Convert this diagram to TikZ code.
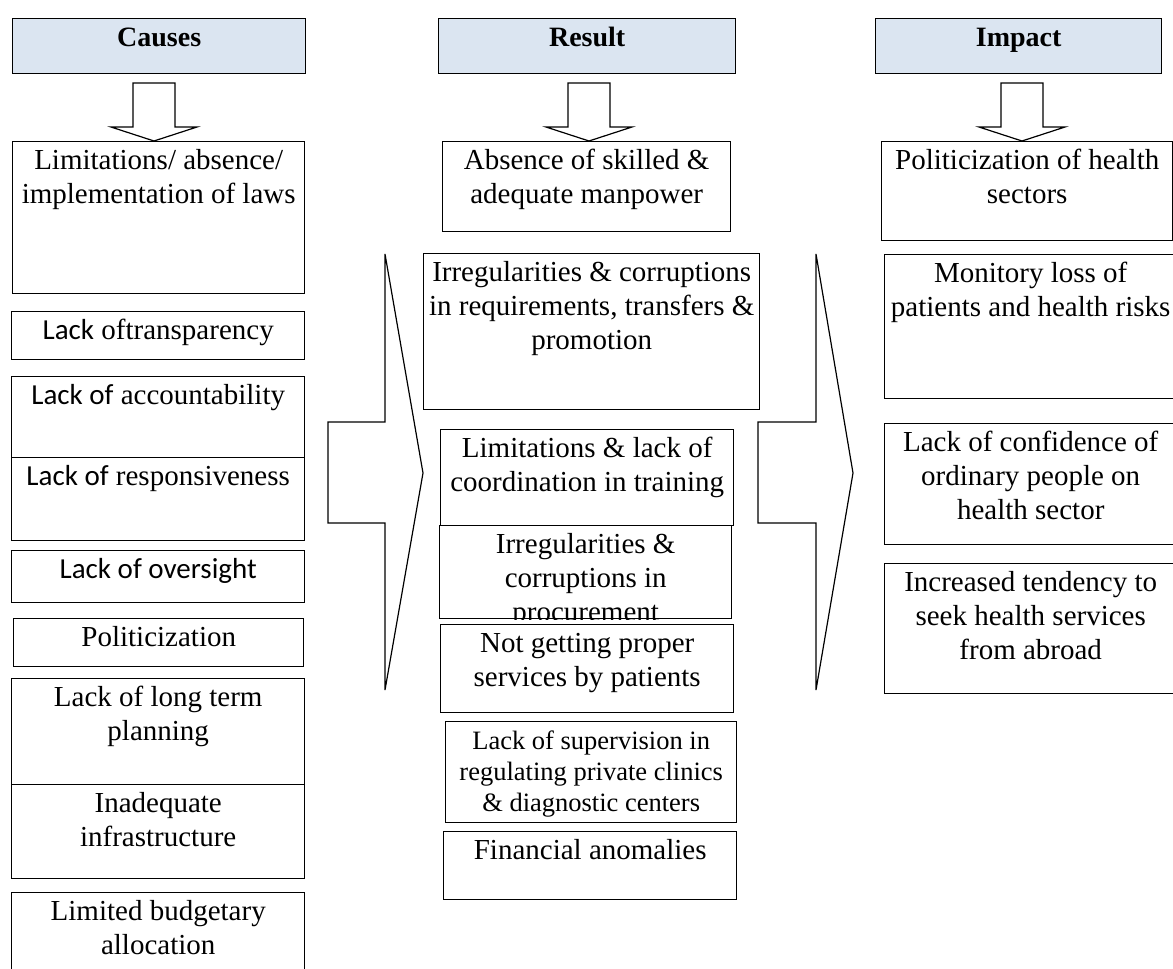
\documentclass[tikz,border=0pt]{standalone}
\usepackage{fontspec}
\setmainfont{Liberation Serif}
\newfontfamily\calibri{Carlito}
\definecolor{headblue}{HTML}{DBE5F1}
\newcommand\boxtext[3]{\parbox[t][#2][t]{#1}{\centering\rule{0pt}{28pt}#3}}

\begin{document}
\begin{tikzpicture}[%
	x=1pt, y=-1pt,
	every node/.style = {shape=rectangle, draw, inner sep=0pt, anchor=north west, line width=1.4pt, font=\fontsize{29}{34}\selectfont},
	head/.style={fill=headblue, font=\fontsize{28}{34}\selectfont\bfseries},
	blockarrow/.style={draw, line width=1.2pt, line join=miter},
	]
  \useasboundingbox (0,0) rectangle (1173,969);
  \node [head] (hc) at (12,18) {\boxtext{293pt}{55pt}{Causes}};
  \node [head] (hr) at (438,18) {\boxtext{297pt}{55pt}{Result}};
  \node [head] (hi) at (875,18) {\boxtext{286pt}{55pt}{Impact}};
  \foreach \x in {154,589,1022}
    \draw [blockarrow] ({\x-21},83) -- ({\x+21},83) -- ({\x+21},127) -- ({\x+43},127)
      -- (\x,141) -- ({\x-43},127) -- ({\x-21},127) -- cycle;
  \node (c1) at (12,141) {\boxtext{292pt}{152pt}{Limitations/ absence/\\implementation of laws}};
  \node (c2) at (11,311) {\boxtext{293pt}{48pt}{{\calibri Lack} oftransparency}};
  \node (c3) at (11,376) {\boxtext{293pt}{81pt}{{\calibri Lack of} accountability}};
  \node (c4) at (11,457) {\boxtext{293pt}{83pt}{{\calibri Lack of} responsiveness}};
  \node (c5) at (11,550) {\boxtext{293pt}{52pt}{\calibri Lack of oversight}};
  \node (c6) at (13,618) {\boxtext{290pt}{48pt}{Politicization}};
  \node (c7) at (11,678) {\boxtext{293pt}{106pt}{Lack of long term\\planning}};
  \node (c8) at (11,784) {\boxtext{293pt}{94pt}{Inadequate\\infrastructure}};
  \node (c9) at (11,892) {\boxtext{293pt}{90pt}{Limited budgetary\\allocation}};
  \node (r1) at (442,141) {\boxtext{288pt}{90pt}{Absence of skilled \&\\adequate manpower}};
  \node (r2) at (423,253) {\boxtext{336pt}{156pt}{Irregularities \& corruptions\\in requirements, transfers \&\\promotion}};
  \node (r3) at (440,429) {\boxtext{293pt}{96pt}{Limitations \& lack of\\coordination in training}};
  \begin{scope}
    \clip (438,524) rectangle (732,619);
    \node (r4) at (439,525) {\boxtext{292pt}{93pt}{Irregularities \&\\corruptions in\\procurement}};
  \end{scope}
  \node (r5) at (440,624) {\boxtext{293pt}{88pt}{Not getting proper\\services by patients}};
  \node (r6) at (445,721) {\boxtext{291pt}{101pt}{\fontsize{26.5}{31}\selectfont Lack of supervision in\\regulating private clinics\\\& diagnostic centers}};
  \node (r7) at (443,831) {\boxtext{293pt}{68pt}{Financial anomalies}};
  \node (i1) at (881,141) {\boxtext{291pt}{99pt}{Politicization of health\\sectors}};
  \node (i2) at (884,254) {\boxtext{292pt}{144pt}{Monitory loss of\\patients and health risks}};
  \node (i3) at (884,423) {\boxtext{292pt}{121pt}{Lack of confidence of\\ordinary people on\\health sector}};
  \node (i4) at (884,563) {\boxtext{292pt}{130pt}{Increased tendency to\\seek health services\\from abroad}};
  \draw [blockarrow] (328,422) -- (385,422) -- (385,254) -- (423,473) -- (385,690) -- (385,523) -- (328,523) -- cycle;
  \draw [blockarrow] (758,422) -- (816,422) -- (816,254) -- (853,473) -- (816,690) -- (816,523) -- (758,523) -- cycle;
\end{tikzpicture}
\end{document}
